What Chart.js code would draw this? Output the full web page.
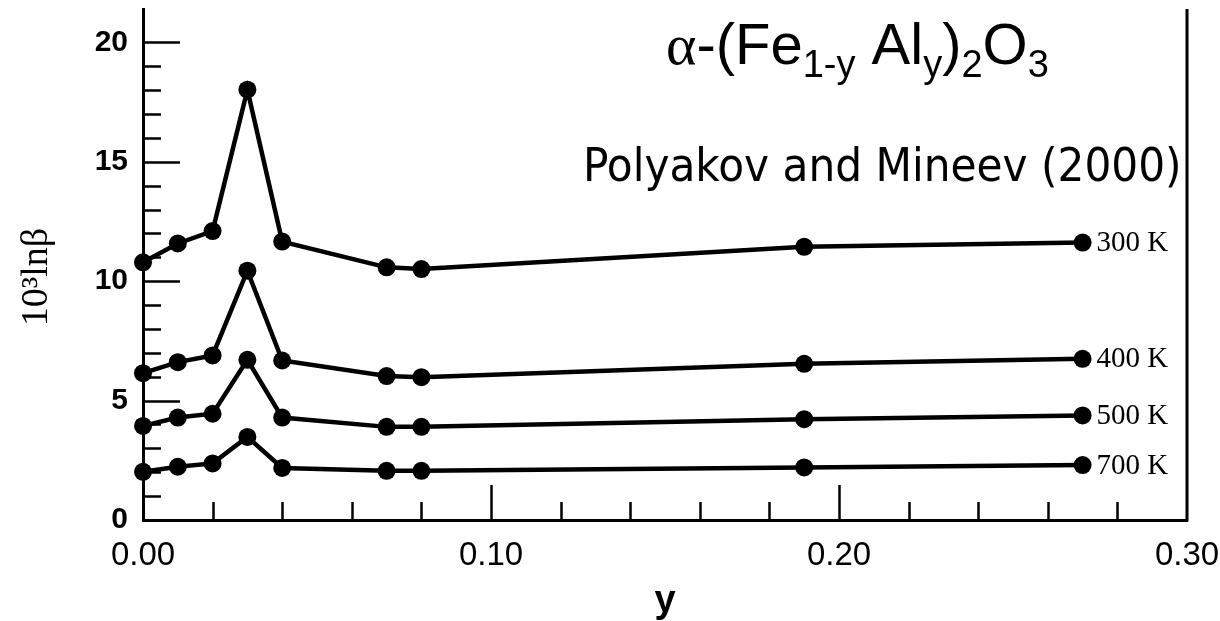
<!DOCTYPE html>
<html><head><meta charset="utf-8">
<script src="https://cdn.jsdelivr.net/npm/chart.js"></script>
<title>Iron isotope factor of alpha-(Fe,Al)2O3</title>
<style>
html, body { margin: 0; padding: 0; background: #fff; }
#wrap { width: 1220px; height: 621px; }
</style>
</head>
<body>
<div id="wrap"><canvas id="chart" width="1220" height="621"></canvas></div>
<script>
// Al content y and 10^3 ln(beta) at each temperature
const yComp  = [0, 0.01, 0.02, 0.03, 0.04, 0.07, 0.08, 0.19, 0.27];
const lnb300 = [10.79, 11.58, 12.10, 18.02, 11.66, 10.58, 10.51, 11.44, 11.62];
const lnb400 = [6.15, 6.61, 6.89, 10.44, 6.68, 6.03, 5.98, 6.54, 6.75];
const lnb500 = [3.94, 4.29, 4.45, 6.71, 4.29, 3.90, 3.90, 4.22, 4.38];
const lnb700 = [2.02, 2.23, 2.37, 3.48, 2.18, 2.06, 2.06, 2.20, 2.30];
const tempLabels = ['300 K', '400 K', '500 K', '700 K'];

const yMajor = [0, 5, 10, 15, 20];
const xMajor = [0, 0.1, 0.2, 0.3];

const pts = vals => yComp.map((x, i) => ({x: x, y: vals[i]}));

function lineSet(label, vals) {
  return {
    label: label,
    data: pts(vals),
    showLine: true,
    borderColor: '#000',
    backgroundColor: '#000',
    borderWidth: 4.5,
    pointRadius: 9,
    pointBorderWidth: 0,
    pointBackgroundColor: '#000',
    tension: 0,
    clip: false
  };
}

// inward tick marks, right frame line, curve labels, axis label and the formula text
const framePlugin = {
  id: 'frame',
  beforeDatasetsDraw(chart) {
    const ctx = chart.ctx;
    const {left, right, top, bottom} = chart.chartArea;
    const xs = chart.scales.x, ys = chart.scales.y;
    ctx.save();
    ctx.strokeStyle = '#000';
    ctx.lineWidth = 3;
    ctx.beginPath();
    ctx.moveTo(right, top);
    ctx.lineTo(right, bottom + 1.5);
    ctx.stroke();

    ctx.lineWidth = 2.5;
    ctx.beginPath();
    for (let v = 1; v <= 20; v++) {
      const py = Math.round(ys.getPixelForValue(v)) + 0.5;
      const len = v % 5 === 0 ? 37 : 18;
      ctx.moveTo(left, py);
      ctx.lineTo(left + len, py);
    }
    for (let i = 1; i < 15; i++) {
      const px = Math.round(xs.getPixelForValue(i * 0.02)) + 0.5;
      const len = i % 5 === 0 ? 35 : 18;
      ctx.moveTo(px, bottom);
      ctx.lineTo(px, bottom - len);
    }
    ctx.stroke();
    ctx.restore();
  },
  afterDraw(chart) {
    const ctx = chart.ctx;
    ctx.save();
    ctx.fillStyle = '#000';

    // temperature labels next to the last point of each curve
    ctx.font = "29px 'Liberation Serif'";
    ctx.textAlign = 'left';
    ctx.textBaseline = 'middle';
    chart.data.datasets.forEach((ds, i) => {
      const meta = chart.getDatasetMeta(i);
      const last = meta.data[meta.data.length - 1];
      ctx.fillText(tempLabels[i], last.x + 14, last.y + 1);
    });

    // y axis label
    ctx.save();
    ctx.translate(37, 277);
    ctx.rotate(-Math.PI / 2);
    ctx.textAlign = 'center';
    ctx.font = "38px 'Liberation Serif'";
    ctx.fillText('10\u00b3ln\u03b2', 0, 0);
    ctx.restore();

    // formula with subscripts
    const big = "58px 'Liberation Sans'";
    const sub = "38px 'Liberation Sans'";
    const parts = [
      ['\u03b1', "58px 'Liberation Serif'", 0],
      ['-(Fe', big, 0],
      ['1-y', sub, 13],
      [' Al', big, 0],
      ['y', sub, 13],
      [')', big, 0],
      ['2', sub, 13],
      ['O', big, 0],
      ['3', sub, 13]
    ];
    let x = 666;
    const base = 64;
    ctx.textAlign = 'left';
    ctx.textBaseline = 'alphabetic';
    parts.forEach(p => {
      ctx.font = p[1];
      ctx.fillText(p[0], x, base + p[2]);
      x += ctx.measureText(p[0]).width;
    });

    ctx.font = "47px 'DejaVu Sans Condensed', 'DejaVu Sans'";
    ctx.fillText('Polyakov and Mineev (2000)', 583, 181);
    ctx.restore();
  }
};

new Chart(document.getElementById('chart'), {
  type: 'scatter',
  data: {
    datasets: [
      lineSet(tempLabels[0], lnb300),
      lineSet(tempLabels[1], lnb400),
      lineSet(tempLabels[2], lnb500),
      lineSet(tempLabels[3], lnb700)
    ]
  },
  options: {
    responsive: false,
    animation: false,
    devicePixelRatio: 1,
    layout: { padding: { top: 8, right: 33, left: 0, bottom: 0 } },
    plugins: { legend: { display: false }, tooltip: { enabled: false } },
    scales: {
      x: {
        type: 'linear',
        min: 0,
        max: 0.3,
        afterBuildTicks: s => { s.ticks = xMajor.map(v => ({value: v})); },
        afterFit: s => { s.height = 101; s.paddingLeft = 0; s.paddingRight = 0; },
        ticks: {
          color: '#000',
          padding: 16,
          maxRotation: 0,
          font: { family: 'Liberation Sans', size: 33 },
          callback: v => v.toFixed(2)
        },
        grid: { drawOnChartArea: false, drawTicks: false },
        border: { display: true, color: '#000', width: 3 },
        title: {
          display: true,
          text: 'y',
          color: '#000',
          font: { family: 'Liberation Sans', size: 38, weight: 'bold' },
          padding: { top: 0, bottom: -3 }
        }
      },
      y: {
        type: 'linear',
        min: 0,
        max: 21.4,
        afterBuildTicks: s => { s.ticks = yMajor.map(v => ({value: v})); },
        afterFit: s => { s.width = 143; s.paddingTop = 0; s.paddingBottom = 0; },
        ticks: {
          color: '#000',
          padding: 15,
          font: { family: 'Liberation Sans', size: 30, weight: 'bold' }
        },
        grid: { drawOnChartArea: false, drawTicks: false },
        border: { display: true, color: '#000', width: 3 }
      }
    }
  },
  plugins: [framePlugin]
});
</script>
</body></html>
